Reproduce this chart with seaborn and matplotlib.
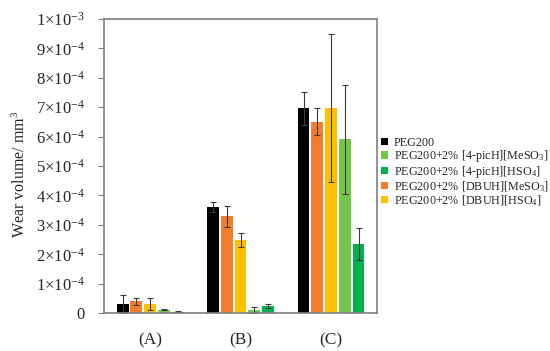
import matplotlib
matplotlib.use('Agg')
import matplotlib.pyplot as plt
import seaborn as sns
import pandas as pd

# Data
groups = ['(A)', '(B)', '(C)']
series = ['PEG200', 'PEG200+2% [DBUH][MeSO$_3$]', 'PEG200+2% [DBUH][HSO$_4$]',
          'PEG200+2% [4-picH][MeSO$_3$]', 'PEG200+2% [4-picH][HSO$_4$]']
colors = ['#000000', '#F47C2E', '#FFC000', '#72C74A', '#00B050']

peg200 = [3.1e-5, 3.62e-4, 6.96e-4]
peg200_err = [3.0e-5, 1.7e-5, 5.5e-5]
dbuh_meso3 = [4.1e-5, 3.29e-4, 6.50e-4]
dbuh_meso3_err = [1.2e-5, 3.5e-5, 4.6e-5]
dbuh_hso4 = [3.1e-5, 2.48e-4, 6.98e-4]
dbuh_hso4_err = [1.9e-5, 2.4e-5, 2.52e-4]
pich_meso3 = [1.1e-5, 1.0e-5, 5.91e-4]
pich_meso3_err = [0.2e-5, 1.0e-5, 1.86e-4]
pich_hso4 = [0.45e-5, 2.4e-5, 2.35e-4]
pich_hso4_err = [0.2e-5, 0.6e-5, 0.53e-4]

yticks = [i * 1e-4 for i in range(11)]
ytick_labels = ['0'] + [f'{i}×10$^{{-4}}$' for i in range(1, 10)] + ['1×10$^{-3}$']

values = [peg200, dbuh_meso3, dbuh_hso4, pich_meso3, pich_hso4]
errors = [peg200_err, dbuh_meso3_err, dbuh_hso4_err, pich_meso3_err, pich_hso4_err]

rows = []
for s, vals in zip(series, values):
    for g, v in zip(groups, vals):
        rows.append({'group': g, 'series': s, 'value': v})
df = pd.DataFrame(rows)

sns.set_style('white')
plt.rcParams['font.family'] = ['Liberation Serif', 'DejaVu Serif']
plt.rcParams['mathtext.fontset'] = 'custom'
plt.rcParams['mathtext.rm'] = 'Liberation Serif'
plt.rcParams['mathtext.it'] = 'Liberation Serif:italic'

fig = plt.figure(figsize=(5.5, 3.51), dpi=100)
ax = fig.add_axes([0.189, 0.108, 0.496, 0.838])

sns.barplot(data=df, x='group', y='value', hue='series', hue_order=series,
            palette=colors, saturation=1, width=0.76, gap=0.14,
            errorbar=None, linewidth=0, ax=ax)

for cont, err in zip(ax.containers, errors):
    xs = [b.get_x() + b.get_width() / 2 for b in cont]
    ys = [b.get_height() for b in cont]
    ax.errorbar(xs, ys, yerr=err, fmt='none', ecolor='#3a3a3a',
                elinewidth=0.8, capsize=2.5, capthick=0.8)

ax.set_xlim(-0.51, 2.505)
ax.set_ylim(0, 1e-3)
ax.set_yticks(yticks)
ax.set_yticklabels(ytick_labels, fontsize=12)
ax.tick_params(axis='y', length=4, width=0.8, color='#808080', pad=10, left=True)
ax.tick_params(axis='x', length=0, labelsize=12.5, pad=14)
ax.set_xlabel('')
ax.set_ylabel('Wear volume/ mm$^3$', fontsize=11.5, labelpad=5)
ax.yaxis.label.set_y(0.47)
for sp in ax.spines.values():
    sp.set_color('#808080')
    sp.set_linewidth(1.2)

handles, labels = ax.get_legend_handles_labels()
ax.get_legend().remove()
order = [0, 3, 4, 1, 2]
fig.legend([handles[i] for i in order], [labels[i] for i in order],
           loc='upper left', bbox_to_anchor=(0.692, 0.61), frameon=False,
           fontsize=8.7, handlelength=0.6, handleheight=0.6,
           handletextpad=0.5, labelspacing=-0.05, borderpad=0, borderaxespad=0)

fig.savefig('out.png', dpi=100)
